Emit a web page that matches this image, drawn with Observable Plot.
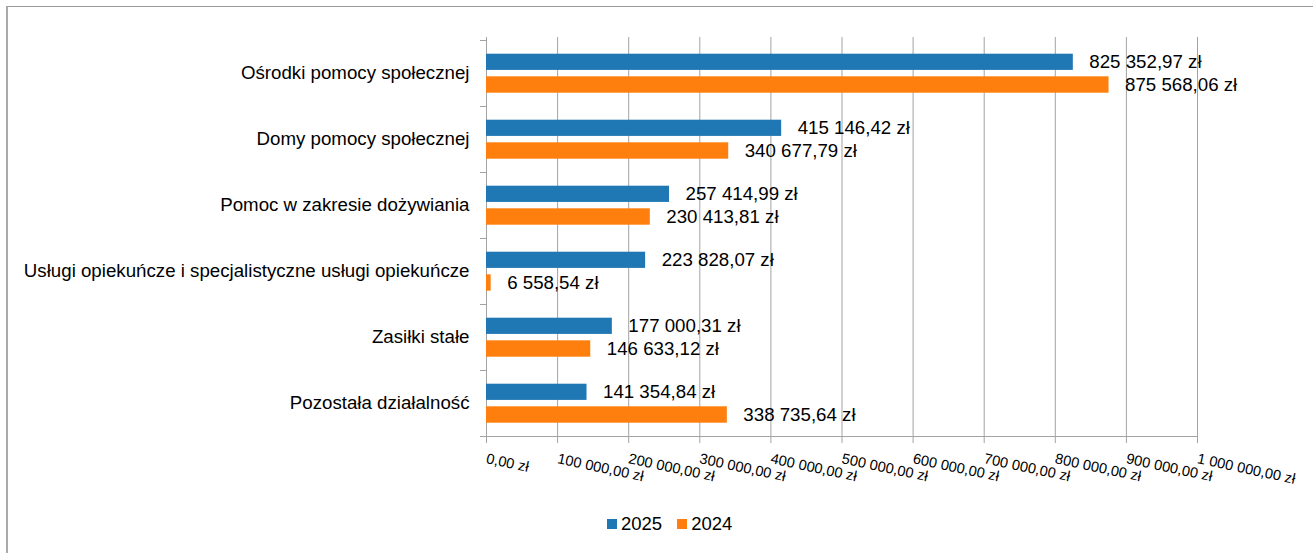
<!DOCTYPE html>
<html>
<head>
<meta charset="utf-8">
<script src="https://cdn.jsdelivr.net/npm/d3@7"></script>
<script src="https://cdn.jsdelivr.net/npm/@observablehq/plot@0.6"></script>
<style>
html, body { margin: 0; padding: 0; background: #fff; width: 1313px; height: 553px; overflow: hidden; font-family: "Liberation Sans", Arial, sans-serif; }
#frame { position: absolute; left: 6px; top: 6px; width: 1400px; height: 600px; border-top: 1px solid #9a9a9a; border-left: 2px solid #ababab; }
#chart { position: absolute; left: 0; top: 0; }
#legend { position: absolute; top: 513px; left: 607px; display: flex; align-items: center; font-size: 18.5px; color: #000; }
.item { display: flex; align-items: center; margin-right: 15px; }
.sw { width: 10px; height: 10px; margin-right: 4px; }
</style>
</head>
<body>
<div id="frame"></div>
<div id="chart"></div>
<div id="legend"></div>
<script>
const categories = [
  "Ośrodki pomocy społecznej",
  "Domy pomocy społecznej",
  "Pomoc w zakresie dożywiania",
  "Usługi opiekuńcze i specjalistyczne usługi opiekuńcze",
  "Zasiłki stałe",
  "Pozostała działalność"
];
const values2025 = [825352.97, 415146.42, 257414.99, 223828.07, 177000.31, 141354.84];
const values2024 = [875568.06, 340677.79, 230413.81, 6558.54, 146633.12, 338735.64];
const seriesNames = ["2025", "2024"];
const seriesColors = ["#1f77b4", "#ff7f0e"];
const xTicks = [0, 100000, 200000, 300000, 400000, 500000, 600000, 700000, 800000, 900000, 1000000];

const locale = d3.formatLocale({decimal: ",", thousands: "\u00a0", grouping: [3], currency: ["", ""]});
const num = locale.format(",.2f");
const fmt = v => num(v) + " zł";

const rows2025 = categories.map((c, i) => ({category: c, value: values2025[i]}));
const rows2024 = categories.map((c, i) => ({category: c, value: values2024[i]}));

const gridColor = "#a3a3a3";
const labelSize = 18.7;

const plot = Plot.plot({
  width: 1313,
  height: 500,
  marginLeft: 486,
  marginRight: 116,
  marginTop: 37,
  marginBottom: 62,
  style: {fontFamily: "'Liberation Sans', Arial, sans-serif", fontSize: "18px", background: "transparent", overflow: "visible"},
  x: {domain: [0, 1000000], label: null},
  y: {domain: categories, padding: 0, label: null},
  marks: [
    Plot.gridX(xTicks, {stroke: gridColor, strokeOpacity: 1}),
    Plot.ruleX([0], {stroke: gridColor}),
    Plot.barX(rows2025, {x: "value", y: "category", fill: seriesColors[0], insetTop: 13.7, insetBottom: 36.1}),
    Plot.barX(rows2024, {x: "value", y: "category", fill: seriesColors[1], insetTop: 36.3, insetBottom: 13.3}),
    Plot.text(rows2025, {x: "value", y: "category", text: d => fmt(d.value), dx: 16, dy: -11.4, textAnchor: "start", fontSize: labelSize, fill: "#000"}),
    Plot.text(rows2024, {x: "value", y: "category", text: d => fmt(d.value), dx: 16, dy: 11.6, textAnchor: "start", fontSize: labelSize, fill: "#000"}),
    Plot.axisX({ticks: xTicks, tickFormat: fmt, tickSize: 5, tickPadding: 15, tickRotate: 12, stroke: gridColor, fill: "#000", fontSize: 14.6, textAnchor: "start"}),
    Plot.axisY({tickSize: 0, tickPadding: 17, fill: "#000", fontSize: labelSize})
  ]
});

document.getElementById("chart").appendChild(plot);

// band-boundary ticks on the y axis and the x baseline, from Plot's own scales
const xs = plot.scale("x");
const ys = plot.scale("y");
const svg = d3.select(plot);
const x0 = xs.apply(0);
const x1 = xs.apply(1000000);
const bounds = categories.map(c => ys.apply(c));
bounds.push(ys.apply(categories[categories.length - 1]) + ys.bandwidth);
const g = svg.append("g").attr("stroke", gridColor).attr("shape-rendering", "crispEdges");
bounds.forEach(b => {
  g.append("line").attr("x1", x0 - 6).attr("x2", x0).attr("y1", b).attr("y2", b);
});
const yb = bounds[bounds.length - 1];
g.append("line").attr("x1", x0).attr("x2", x1).attr("y1", yb).attr("y2", yb);

// legend
const legend = d3.select("#legend");
seriesNames.forEach((s, i) => {
  const it = legend.append("div").attr("class", "item");
  it.append("div").attr("class", "sw").style("background", seriesColors[i]);
  it.append("span").text(s);
});
</script>
</body>
</html>
